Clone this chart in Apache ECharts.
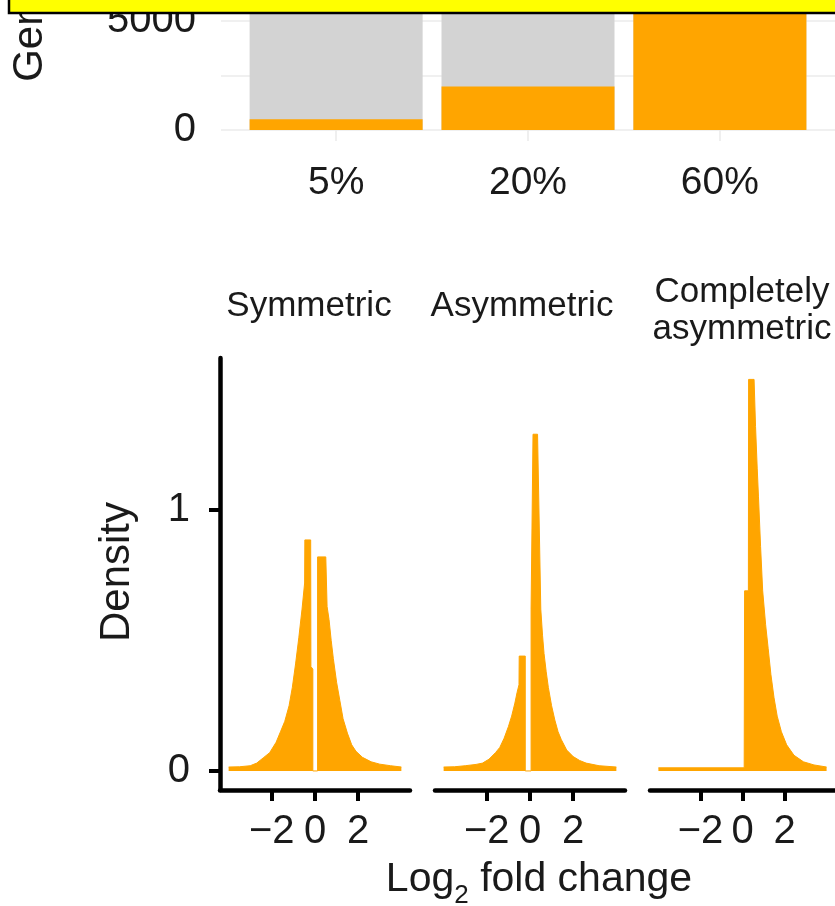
<!DOCTYPE html>
<html>
<head>
<meta charset="utf-8">
<script src="https://cdn.jsdelivr.net/npm/echarts@6/dist/echarts.min.js"></script>
<style>
html,body{margin:0;padding:0;background:#fff;}
#chart{width:835px;height:906px;}
</style>
</head>
<body>
<div id="chart"></div>
<script>
// ---- Top panel: genes per DE fraction ----
const barCategories = ['5%', '20%', '60%'];
const deGenes = [500, 2000, 6000];
const nonDeGenes = [9500, 8000, 4000];
const geneTicks = [0, 5000];
const geneGrid = [0, 2500, 5000];

// ---- Bottom panels: log2 fold-change densities ----
const panelTitles = ['Symmetric', 'Asymmetric', 'Completely\nasymmetric'];
const lfcTicks = [-2, 0, 2];
const densityTicks = [0, 1];

const symLfc = [-4.0, -3.5, -3.0, -2.7, -2.4, -2.1, -1.8, -1.6, -1.4, -1.2, -1.05, -0.9, -0.75, -0.6, -0.48, -0.47, -0.2, -0.19, -0.1, -0.1, 0.12, 0.12, 0.5, 0.56, 0.65, 0.75, 0.85, 1.0, 1.15, 1.3, 1.5, 1.7, 1.9, 2.2, 2.6, 3.0, 3.5, 4.0];
const symDensity = [0.015, 0.016, 0.02, 0.03, 0.05, 0.07, 0.11, 0.15, 0.19, 0.25, 0.32, 0.41, 0.51, 0.62, 0.72, 0.885, 0.885, 0.40, 0.39, 0, 0, 0.82, 0.82, 0.63, 0.58, 0.50, 0.43, 0.34, 0.27, 0.20, 0.145, 0.10, 0.075, 0.052, 0.035, 0.026, 0.02, 0.015];

const asymLfc = [-4.0, -3.5, -3.0, -2.5, -2.2, -1.9, -1.6, -1.4, -1.2, -1.0, -0.85, -0.7, -0.6, -0.51, -0.5, -0.22, -0.22, 0.05, 0.05, 0.14, 0.14, 0.35, 0.5, 0.58, 0.65, 0.75, 0.85, 1.0, 1.15, 1.3, 1.45, 1.7, 2.0, 2.3, 2.6, 3.2, 4.0];
const asymDensity = [0.015, 0.016, 0.02, 0.025, 0.03, 0.045, 0.07, 0.09, 0.125, 0.17, 0.21, 0.26, 0.30, 0.33, 0.44, 0.44, 0, 0, 0.62, 0.62, 1.29, 1.29, 0.62, 0.52, 0.45, 0.38, 0.32, 0.25, 0.195, 0.15, 0.12, 0.08, 0.055, 0.04, 0.03, 0.02, 0.015];

const compLfc = [-4.0, 0.08, 0.1, 0.28, 0.29, 0.55, 0.62, 0.7, 0.76, 0.86, 0.96, 1.1, 1.22, 1.35, 1.5, 1.65, 1.85, 2.1, 2.45, 2.9, 3.4, 4.0];
const compDensity = [0.012, 0.012, 0.69, 0.69, 1.50, 1.50, 1.32, 1.16, 1.05, 0.86, 0.69, 0.56, 0.47, 0.37, 0.28, 0.21, 0.15, 0.10, 0.06, 0.035, 0.023, 0.015];

const ORANGE = '#FFA500';
const GREY = '#D3D3D3';
const FONT = '"Liberation Sans", Arial, Helvetica, sans-serif';
const TXT = '#1a1a1a';

const zip = (xs, ys) => xs.map((x, i) => [x, ys[i]]);
const minusFmt = v => (v < 0 ? '\u2212' + Math.abs(v) : String(v));
const totalGenes = deGenes.map((v, i) => v + nonDeGenes[i]);

const panels = [zip(symLfc, symDensity), zip(asymLfc, asymDensity), zip(compLfc, compDensity)];
const panelLeft = [220, 435, 650];
const panelWidth = 190;

const grids = [{ left: 221, width: 617, top: 1, height: 140 }];
panelLeft.forEach(l => grids.push({ left: l, width: panelWidth, top: 358, height: 432 }));

const xAxes = [{
  type: 'value', gridIndex: 0, min: 0.4, max: 3.6,
  axisLine: { show: false },
  axisTick: { show: false, customValues: [1, 2, 3] },
  splitLine: { show: true, lineStyle: { color: '#EBEBEB', width: 1.6 } },
  axisLabel: {
    customValues: [1, 2, 3],
    formatter: v => barCategories[Math.round(v) - 1],
    fontSize: 39, fontFamily: FONT, color: TXT, margin: 23
  }
}];
const yAxes = [{
  type: 'value', gridIndex: 0, min: -500, max: 5917,
  axisLine: { show: false },
  axisTick: { show: false, customValues: geneGrid },
  splitLine: { show: true, lineStyle: { color: '#EBEBEB', width: 1.6 } },
  axisLabel: { customValues: geneTicks, formatter: v => String(v), fontSize: 40, fontFamily: FONT, color: TXT, margin: 25 }
}];

panelLeft.forEach((l, i) => {
  xAxes.push({
    type: 'value', gridIndex: i + 1, min: -4.4, max: 4.4,
    axisLine: { show: true, onZero: false, lineStyle: { color: '#000', width: 4.5 } },
    axisTick: { show: true, customValues: lfcTicks, length: 11, lineStyle: { color: '#000', width: 4 } },
    axisLabel: { customValues: lfcTicks, formatter: minusFmt, fontSize: 40, fontFamily: FONT, color: TXT, margin: 22 },
    splitLine: { show: false }
  });
  yAxes.push({
    type: 'value', gridIndex: i + 1, min: -0.073, max: 1.582,
    show: i === 0,
    axisLine: { show: true, onZero: false, lineStyle: { color: '#000', width: 4.5 } },
    axisTick: { show: true, customValues: densityTicks, length: 11, lineStyle: { color: '#000', width: 4 } },
    axisLabel: { customValues: densityTicks, fontSize: 40, fontFamily: FONT, color: TXT, margin: 30 },
    splitLine: { show: false }
  });
});

const series = [
  {
    type: 'bar', xAxisIndex: 0, yAxisIndex: 0, barWidth: 173, barGap: '-100%', clip: true,
    itemStyle: { color: GREY }, data: totalGenes.map((v, i) => [i + 1, v]), silent: true
  },
  {
    type: 'bar', xAxisIndex: 0, yAxisIndex: 0, barWidth: 173, barGap: '-100%', clip: true,
    itemStyle: { color: ORANGE }, data: deGenes.map((v, i) => [i + 1, v]), silent: true
  }
];
panels.forEach((d, i) => {
  series.push({
    type: 'line', xAxisIndex: i + 1, yAxisIndex: i + 1, data: d,
    showSymbol: false, symbol: 'none', smooth: false, clip: true, silent: true,
    lineStyle: { color: ORANGE, width: 1 },
    areaStyle: { color: ORANGE, opacity: 1 }
  });
});

const titleCenters = [309, 522, 742];
const graphic = [
  {
    type: 'text', x: 30, y: 20, rotation: Math.PI / 2,
    style: { text: 'Genes', font: '42px ' + FONT, fill: TXT, align: 'center', verticalAlign: 'middle' }
  },
  {
    type: 'text', x: 117, y: 572, rotation: Math.PI / 2,
    style: { text: 'Density', font: '42px ' + FONT, fill: TXT, align: 'center', verticalAlign: 'middle' }
  },
  {
    type: 'text', x: 539, y: 880,
    style: {
      text: '{a|Log}{s|2}{a| fold change}',
      align: 'center', verticalAlign: 'middle',
      rich: {
        a: { fontSize: 41, fontFamily: FONT, fill: TXT, color: TXT },
        s: { fontSize: 26, fontFamily: FONT, fill: TXT, color: TXT, padding: [32, 0, 0, 0] }
      }
    }
  },
  {
    type: 'rect', z: 100,
    shape: { x: 9, y: -10, width: 840, height: 23 },
    style: { fill: '#FFFF00', stroke: '#000', lineWidth: 2.5 }
  }
];
panelTitles.forEach((t, i) => {
  graphic.push({
    type: 'text', x: titleCenters[i], y: i === 2 ? 311 : 306,
    style: { text: t, font: '35px ' + FONT, fill: TXT, align: 'center', verticalAlign: 'middle', lineHeight: 37 }
  });
});

const chart = echarts.init(document.getElementById('chart'), null, { renderer: 'canvas' });
chart.setOption({
  animation: false,
  backgroundColor: '#fff',
  grid: grids,
  xAxis: xAxes,
  yAxis: yAxes,
  series: series,
  graphic: graphic
});
</script>
</body>
</html>
